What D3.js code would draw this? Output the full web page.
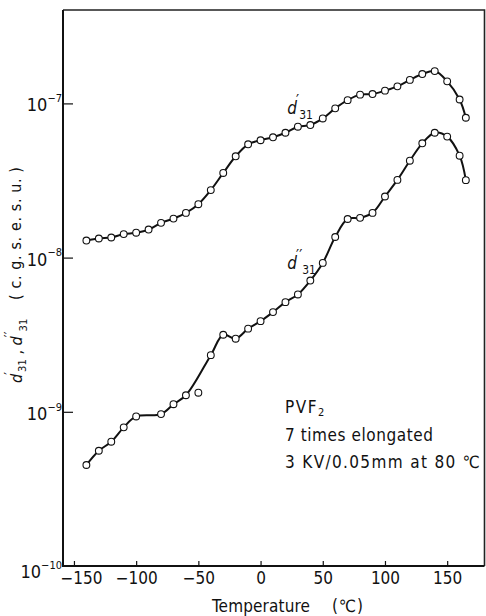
<!DOCTYPE html>
<html><head><meta charset="utf-8">
<script src="https://cdn.jsdelivr.net/npm/d3@7"></script>
<style>
html,body{margin:0;padding:0;background:#fff;}
svg text{font-family:"DejaVu Sans Condensed","Liberation Sans Narrow","Liberation Sans",sans-serif;fill:#111;}
</style></head><body>
<svg id="chart" width="486" height="616"></svg>
<script>
// ---- data ----
const upperTemps = [-140,-130,-120,-110,-100,-90,-80,-70,-60,-50,-40,-30,-20,-10,0,10,20,30,40,50,60,70,80,90,100,110,120,130,140,150,160,165];
const upperValues = [1.29e-8,1.33e-8,1.35e-8,1.42e-8,1.45e-8,1.52e-8,1.68e-8,1.79e-8,1.95e-8,2.22e-8,2.74e-8,3.54e-8,4.54e-8,5.43e-8,5.77e-8,6.03e-8,6.45e-8,7.06e-8,7.24e-8,7.99e-8,9.29e-8,1.05e-7,1.14e-7,1.15e-7,1.21e-7,1.29e-7,1.42e-7,1.55e-7,1.62e-7,1.39e-7,1.06e-7,8.07e-8];
const lowerTemps = [-140,-130,-120,-110,-100,-80,-70,-60,-50,-40,-30,-20,-10,0,10,20,30,40,50,60,70,80,90,100,110,120,130,140,150,160,165];
const lowerValues = [4.52e-10,5.59e-10,6.40e-10,7.93e-10,9.33e-10,9.66e-10,1.12e-9,1.28e-9,1.33e-9,2.33e-9,3.16e-9,2.98e-9,3.46e-9,3.87e-9,4.43e-9,5.14e-9,5.77e-9,7.10e-9,9.24e-9,1.36e-8,1.78e-8,1.81e-8,1.95e-8,2.49e-8,3.19e-8,4.25e-8,5.51e-8,6.45e-8,6.09e-8,4.58e-8,3.18e-8];
const lowerCurveSkips = [-50];   // measured point lying off the drawn curve
const xTickValues = [-150,-100,-50,0,50,100,150];
const yTickExponents = [-10,-9,-8,-7];
const xTitle = ["Temperature", "(℃)"];
const yTitleUnits = "( c. g. s. e. s. u. )";
const noteLines = ["PVF", "7 times elongated", "3 KV/0.05mm at 80 ℃"];

// ---- chart ----
const svg = d3.select("#chart");
const L = 63, R = 484.5, T = 10, B = 566;
const x = d3.scaleLinear().domain([-158.8, 180]).range([L, R]);
const y = d3.scaleLog().domain([1e-10, Math.pow(10, -10 + (B - T) / 154.2)]).range([B, T]);

// frame
svg.append("path")
  .attr("d", `M${L},${T}H${R}V${B}`)
  .attr("fill", "none").attr("stroke", "#222").attr("stroke-width", 1.6);
svg.append("path")
  .attr("d", `M${L},${T}V${B}H${R}`)
  .attr("fill", "none").attr("stroke", "#111").attr("stroke-width", 2);

// x axis
const gx = svg.append("g").attr("transform", `translate(0,${B})`)
  .call(d3.axisBottom(x).tickValues(xTickValues).tickSize(-5).tickSizeOuter(0).tickPadding(6)
        .tickFormat(d3.format("d")));
gx.select(".domain").remove();
gx.selectAll(".tick line").attr("stroke", "#111").attr("stroke-width", 1.2);
gx.selectAll(".tick text").attr("font-size", 17).attr("fill", "#111").attr("font-family", null);
gx.selectAll(".tick").filter(d => d === -150).select("text").attr("dx", 7);

// y axis
const gy = svg.append("g").attr("transform", `translate(${L},0)`)
  .call(d3.axisLeft(y).tickValues(yTickExponents.map(e => Math.pow(10, e))).tickSize(-10).tickSizeOuter(0).tickPadding(1)
        .tickFormat(() => ""));
gy.select(".domain").remove();
gy.selectAll(".tick line").attr("stroke", "#111").attr("stroke-width", 1.2)
  .filter(d => d < 2e-10).remove();
gy.selectAll(".tick text").attr("font-family", null).each(function(d) {
  const t = d3.select(this).attr("font-size", 18).attr("dy", d < 2e-10 ? "0.65em" : "0.42em");
  t.append("tspan").text("10");
  t.append("tspan").attr("font-size", 11).attr("dy", "-0.85em").text("−" + Math.abs(Math.round(Math.log10(d))));
});

// lines
const line = d3.line().x(d => x(d[0])).y(d => y(d[1])).curve(d3.curveCatmullRom.alpha(0.5));
const upper = upperTemps.map((t, i) => [t, upperValues[i]]);
const lower = lowerTemps.map((t, i) => [t, lowerValues[i]]);
svg.append("path").datum(upper).attr("d", line)
  .attr("fill", "none").attr("stroke", "#111").attr("stroke-width", 2);
svg.append("path").datum(lower.filter(d => !lowerCurveSkips.includes(d[0]))).attr("d", line)
  .attr("fill", "none").attr("stroke", "#111").attr("stroke-width", 2);

[upper, lower].forEach(s => {
  svg.append("g").selectAll("circle").data(s).join("circle")
    .attr("cx", d => x(d[0])).attr("cy", d => y(d[1])).attr("r", 3.4)
    .attr("fill", "#fff").attr("stroke", "#111").attr("stroke-width", 1.1);
});

// curve labels d'31, d''31
function dLabel(parent, xx, yy, primes, size) {
  const t = parent.append("text").attr("x", xx).attr("y", yy).attr("font-size", size);
  t.append("tspan").attr("font-style", "italic").text("d");
  t.append("tspan").attr("font-size", size * 0.9).attr("dy", -size * 0.5).attr("dx", -1).text(primes);
  t.append("tspan").attr("font-size", size * 0.7).attr("dy", size * 0.78).text("31");
  return t;
}
dLabel(svg, x(21.5), 114, "′", 17);
dLabel(svg, x(21.5), 269, "′′", 17);

// y title (rotated)
const yt = svg.append("g").attr("transform", "translate(22,383) rotate(-90)");
const ytt = dLabel(yt, 0, 0, "′", 16);
ytt.append("tspan").attr("dy", -16 * 0.28).text(" , ");
ytt.append("tspan").attr("font-style", "italic").text("d");
ytt.append("tspan").attr("font-size", 14.4).attr("dy", -8).attr("dx", -1).text("′′");
ytt.append("tspan").attr("font-size", 11.2).attr("dy", 12.5).text("31");
yt.append("text").attr("x", 83).attr("y", -1).attr("font-size", 16)
  .attr("textLength", 133).attr("lengthAdjust", "spacing").text(yTitleUnits);

// x title
svg.append("text").attr("x", 212).attr("y", 612).attr("font-size", 17)
  .attr("textLength", 98).attr("lengthAdjust", "spacing").text(xTitle[0]);
svg.append("text").attr("x", 332).attr("y", 612).attr("font-size", 17)
  .attr("textLength", 31).attr("lengthAdjust", "spacing").text(xTitle[1]);

// notes
const nx = 285;
const n0 = svg.append("text").attr("x", nx).attr("y", 413).attr("font-size", 17).attr("letter-spacing", 1.5);
n0.append("tspan").text(noteLines[0]);
n0.append("tspan").attr("font-size", 11).attr("dy", 3).text("2");
svg.append("text").attr("x", nx).attr("y", 441).attr("font-size", 17)
  .attr("textLength", 148).attr("lengthAdjust", "spacing").text(noteLines[1]);
svg.append("text").attr("x", nx).attr("y", 468).attr("font-size", 17)
  .attr("textLength", 195).attr("lengthAdjust", "spacing").text(noteLines[2]);
</script>
</body></html>
